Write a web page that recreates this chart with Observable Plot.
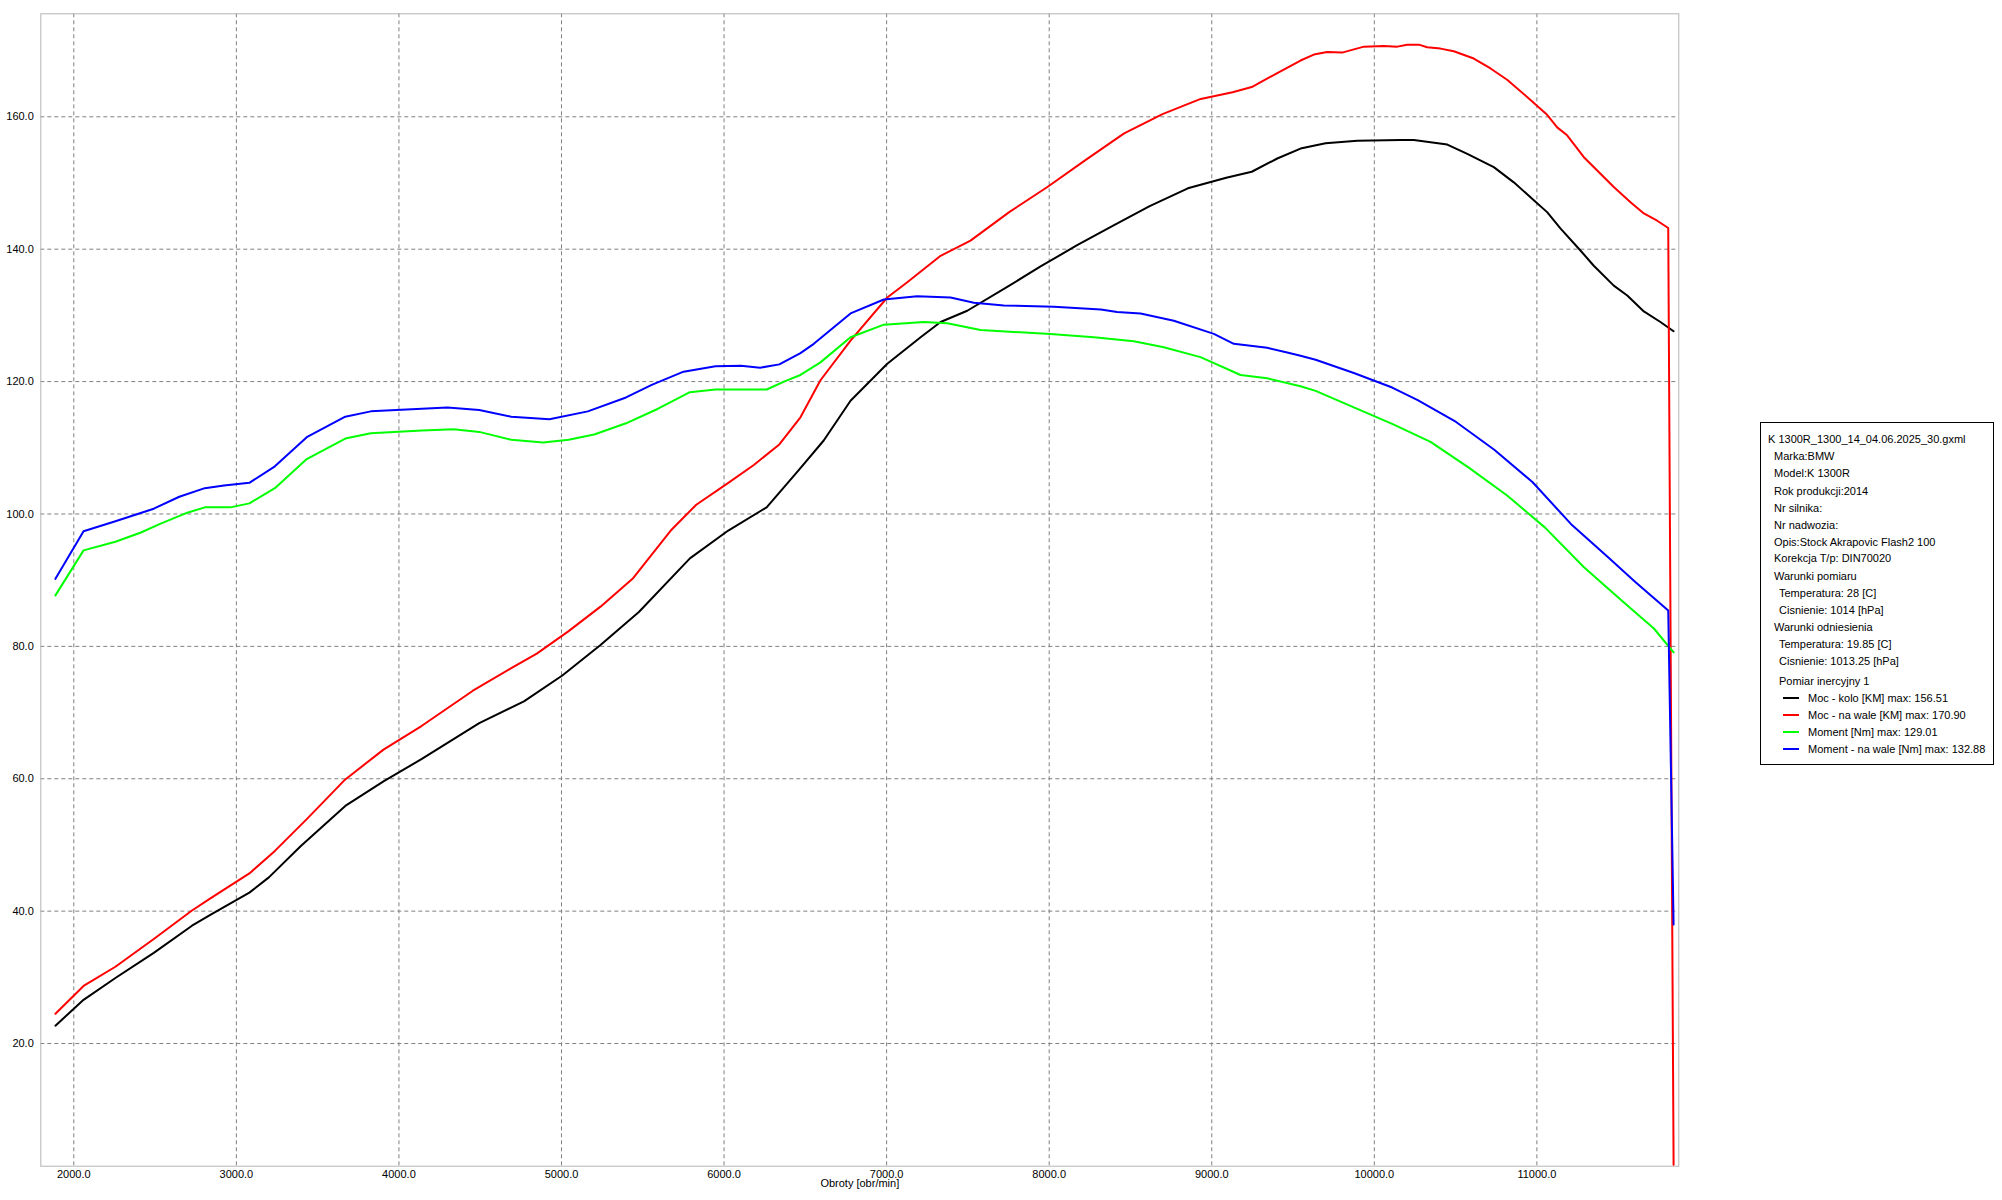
<!DOCTYPE html>
<html>
<head>
<meta charset="utf-8">
<script src="https://cdn.jsdelivr.net/npm/d3@7"></script>
<script src="https://cdn.jsdelivr.net/npm/@observablehq/plot@0.6"></script>
<style>
html, body { margin: 0; padding: 0; background: #fff; }
#wrap { position: relative; width: 2002px; height: 1200px; overflow: hidden; background: #fff; }
#chart svg { display: block; }
.lt { position: absolute; white-space: nowrap; font: 11px "Liberation Sans", Arial, sans-serif; line-height: 14px; color: #000; }
.sw { position: absolute; height: 2px; }
#legendBox { position: absolute; border: 1px solid #000; box-sizing: border-box; }
</style>
</head>
<body>
<div id="wrap">
  <div id="chart"></div>
  <div id="legend"></div>
</div>
<script>
// ---- tick values ----
const xTicks = [2000, 3000, 4000, 5000, 6000, 7000, 8000, 9000, 10000, 11000];
const yTicks = [20, 40, 60, 80, 100, 120, 140, 160];

// ---- series: Moc - kolo [KM] (black) ----
const kolоRpm = [1887, 2060, 2256, 2492, 2727, 2845, 3080, 3200, 3395, 3670, 3905, 4141, 4494, 4769, 5005, 5240, 5476, 5790, 6026, 6262, 6458, 6613, 6778, 7004, 7209, 7332, 7496, 7742, 7947, 8172, 8382, 8618, 8853, 9089, 9246, 9403, 9546, 9700, 9895, 10162, 10243, 10449, 10572, 10735, 10858, 10981, 11063, 11146, 11268, 11350, 11473, 11556, 11658, 11760, 11841];
const koloVal = [22.7, 26.6, 29.9, 33.7, 37.8, 39.5, 42.8, 45.1, 49.8, 55.9, 59.6, 63.0, 68.4, 71.7, 75.6, 80.2, 85.2, 93.3, 97.5, 101.0, 106.6, 111.1, 117.1, 122.7, 126.7, 129.0, 130.7, 134.3, 137.4, 140.6, 143.4, 146.5, 149.2, 150.8, 151.7, 153.7, 155.2, 156.0, 156.4, 156.5, 156.5, 155.8, 154.4, 152.4, 150.1, 147.4, 145.6, 143.1, 139.8, 137.5, 134.5, 133.0, 130.6, 129.0, 127.6];

// ---- series: Moc - na wale [KM] (red) ----
const waleRpm = [1887, 2060, 2256, 2492, 2727, 2845, 3080, 3237, 3433, 3670, 3905, 4141, 4455, 4691, 4848, 5044, 5240, 5437, 5672, 5829, 6026, 6183, 6340, 6470, 6593, 6778, 7004, 7127, 7332, 7516, 7754, 7989, 8225, 8461, 8697, 8932, 9128, 9246, 9403, 9546, 9628, 9710, 9802, 9936, 10059, 10141, 10202, 10274, 10325, 10407, 10489, 10612, 10715, 10817, 10940, 11063, 11125, 11186, 11289, 11371, 11473, 11576, 11658, 11740, 11808, 11841];
const waleVal = [24.5, 28.7, 31.6, 35.8, 40.1, 42.0, 45.7, 49.1, 53.9, 59.9, 64.4, 68.0, 73.3, 76.7, 78.9, 82.3, 86.0, 90.2, 97.5, 101.4, 104.7, 107.4, 110.5, 114.6, 120.2, 126.2, 132.7, 135.0, 139.0, 141.3, 145.6, 149.4, 153.5, 157.5, 160.4, 162.7, 163.7, 164.5, 166.6, 168.5, 169.4, 169.8, 169.7, 170.6, 170.7, 170.6, 170.9, 170.9, 170.5, 170.3, 169.9, 168.8, 167.3, 165.6, 163.0, 160.3, 158.4, 157.2, 153.9, 151.9, 149.4, 147.1, 145.4, 144.3, 143.2, 1.7];

// ---- series: Moment [Nm] (green) ----
const momRpm = [1887, 2060, 2256, 2413, 2531, 2688, 2806, 2963, 3080, 3237, 3433, 3670, 3827, 4141, 4337, 4494, 4691, 4887, 5044, 5201, 5397, 5594, 5790, 5947, 6104, 6262, 6379, 6470, 6593, 6778, 6983, 7229, 7373, 7578, 7783, 8008, 8275, 8521, 8705, 8931, 9177, 9341, 9546, 9639, 9874, 10110, 10346, 10581, 10817, 11052, 11288, 11523, 11720, 11841];
const momVal = [87.7, 94.5, 95.8, 97.2, 98.5, 100.1, 101.0, 101.0, 101.6, 103.9, 108.3, 111.4, 112.2, 112.6, 112.8, 112.4, 111.2, 110.8, 111.2, 112.0, 113.7, 115.9, 118.4, 118.8, 118.8, 118.8, 120.1, 121.0, 122.9, 126.7, 128.6, 129.0, 128.8, 127.8, 127.5, 127.2, 126.7, 126.1, 125.2, 123.7, 121.0, 120.5, 119.3, 118.6, 116.1, 113.6, 110.9, 107.0, 102.8, 97.9, 92.0, 86.9, 82.7, 79.1];

// ---- series: Moment - na wale [Nm] (blue) ----
const momWaleRpm = [1887, 2060, 2256, 2492, 2649, 2806, 2924, 3080, 3237, 3433, 3670, 3827, 4298, 4494, 4691, 4926, 5162, 5397, 5555, 5751, 5947, 6104, 6222, 6340, 6470, 6552, 6778, 6983, 7188, 7393, 7537, 7721, 8029, 8318, 8418, 8562, 8767, 9013, 9136, 9341, 9464, 9546, 9639, 9874, 10110, 10267, 10503, 10738, 10974, 11209, 11445, 11602, 11808, 11841];
const momWaleVal = [90.2, 97.4, 98.9, 100.8, 102.6, 103.9, 104.3, 104.7, 107.2, 111.6, 114.7, 115.5, 116.1, 115.7, 114.7, 114.3, 115.5, 117.6, 119.5, 121.5, 122.3, 122.4, 122.1, 122.6, 124.3, 125.7, 130.3, 132.4, 132.9, 132.7, 131.9, 131.5, 131.3, 130.9, 130.5, 130.3, 129.2, 127.2, 125.7, 125.1, 124.4, 123.9, 123.3, 121.3, 119.1, 117.2, 113.9, 109.7, 104.8, 98.5, 93.3, 89.8, 85.4, 38.0];

// ---- legend content ----
const seriesNames = ["Moc - kolo [KM]", "Moc - na wale [KM]", "Moment [Nm]", "Moment - na wale [Nm]"];
const seriesMax = ["156.51", "170.90", "129.01", "132.88"];
const seriesColors = ["#000000", "#ff0000", "#00ff00", "#0000ff"];
const infoLines = [
  ["K 1300R_1300_14_04.06.2025_30.gxml", 0],
  ["Marka:BMW", 1],
  ["Model:K 1300R", 1],
  ["Rok produkcji:2014", 1],
  ["Nr silnika:", 1],
  ["Nr nadwozia:", 1],
  ["Opis:Stock Akrapovic Flash2 100", 1],
  ["Korekcja T/p: DIN70020", 1],
  ["Warunki pomiaru", 1],
  ["Temperatura: 28 [C]", 2],
  ["Cisnienie: 1014 [hPa]", 2],
  ["Warunki odniesienia", 1],
  ["Temperatura: 19.85 [C]", 2],
  ["Cisnienie: 1013.25 [hPa]", 2],
  ["Pomiar inercyjny 1", 2]
];

const seriesRpm = [kolоRpm, waleRpm, momRpm, momWaleRpm];
const seriesVal = [koloVal, waleVal, momVal, momWaleVal];

const FONT = '"Liberation Sans", Arial, sans-serif';
const fmt = d => d.toFixed(1);

const lineMarks = seriesNames.map((name, k) =>
  Plot.line(seriesRpm[k].map((r, i) => ({rpm: r, val: seriesVal[k][i]})), {
    x: "rpm", y: "val", stroke: seriesColors[k], strokeWidth: 2, strokeLinejoin: "round"
  })
);

const chart = Plot.plot({
  width: 2002,
  height: 1200,
  marginLeft: 40.3,
  marginTop: 13.3,
  marginRight: 323.7,
  marginBottom: 34.3,
  style: {fontFamily: FONT, fontSize: "11px", background: "#fff", color: "#000"},
  x: {domain: [1797, 11873]},
  y: {domain: [1.47, 175.56]},
  marks: [
    Plot.gridX(xTicks, {stroke: "#808080", strokeOpacity: 1, strokeDasharray: "4,3"}),
    Plot.gridY(yTicks, {stroke: "#808080", strokeOpacity: 1, strokeDasharray: "4,3"}),
    Plot.frame({stroke: "#b4b4b4"}),
    Plot.axisX(xTicks, {tickSize: 0, tickPadding: 4, tickFormat: fmt, label: null, fill: "#000"}),
    Plot.axisY(yTicks, {tickSize: 0, tickPadding: 7, tickFormat: fmt, label: null, fill: "#000"}),
    ...lineMarks,
    Plot.text(["Obroty [obr/min]"], {frameAnchor: "bottom", dy: 21, fill: "#000", fontSize: 11})
  ]
});
document.getElementById("chart").appendChild(chart);

// ---- legend (HTML, right of plot) ----
const leg = document.getElementById("legend");
const box = document.createElement("div");
box.id = "legendBox";
Object.assign(box.style, {left: "1760px", top: "422px", width: "234px", height: "343px"});
leg.appendChild(box);

const indents = [1768, 1774, 1779];
const rowCenters = [439, 456, 473.3, 490.7, 507.7, 525, 541.7, 558.3, 575.7, 593.3, 610, 626.5, 643.5, 660.5, 681];
infoLines.forEach(([t, lvl], i) => {
  const d = document.createElement("div");
  d.className = "lt";
  d.textContent = t;
  d.style.left = indents[lvl] + "px";
  d.style.top = (rowCenters[i] - 7) + "px";
  leg.appendChild(d);
});
const serCenters = [698.3, 715, 732, 749];
seriesNames.forEach((n, k) => {
  const s = document.createElement("div");
  s.className = "sw";
  s.style.left = "1783px";
  s.style.width = "16px";
  s.style.top = (serCenters[k] - 1) + "px";
  s.style.background = seriesColors[k];
  leg.appendChild(s);
  const d = document.createElement("div");
  d.className = "lt";
  d.textContent = n + " max: " + seriesMax[k];
  d.style.left = "1808px";
  d.style.top = (serCenters[k] - 7) + "px";
  leg.appendChild(d);
});
</script>
</body>
</html>
